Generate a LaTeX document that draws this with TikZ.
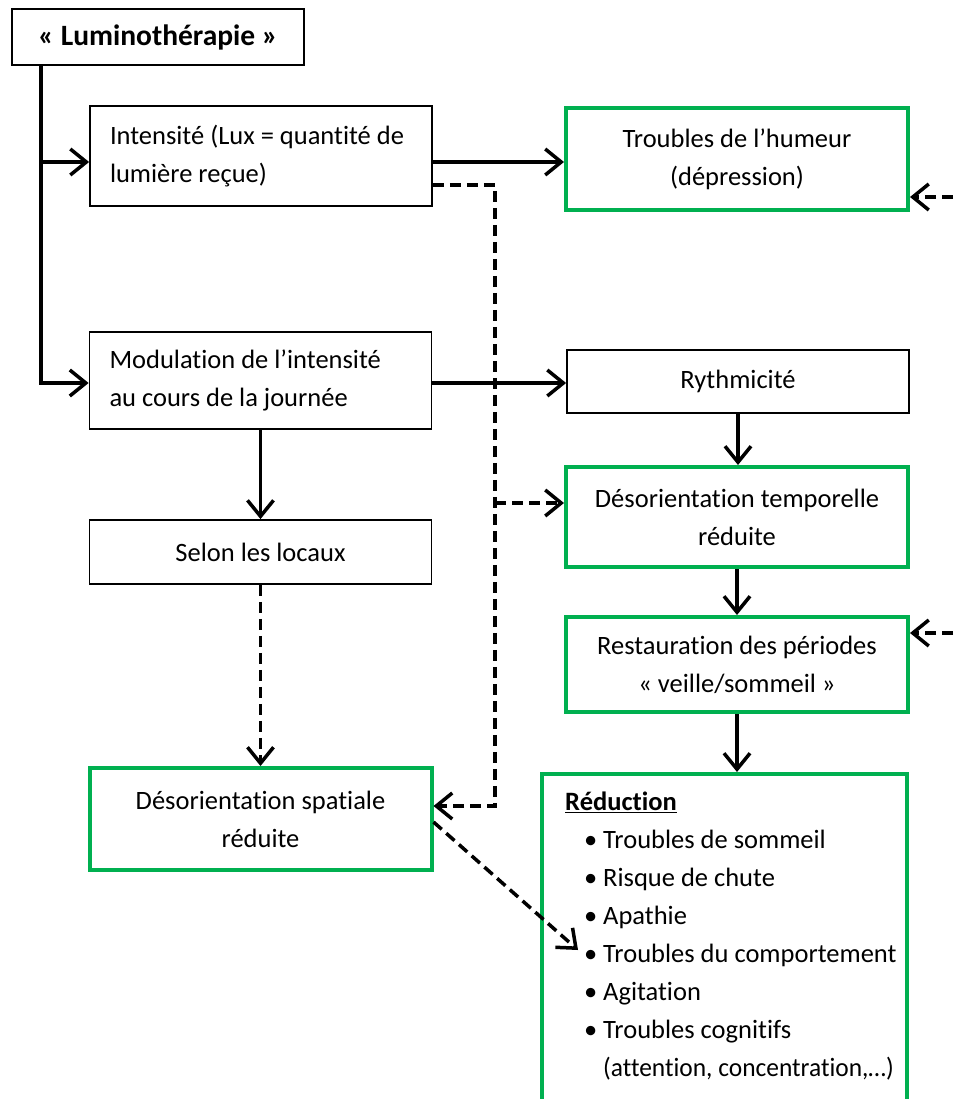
\documentclass[tikz,border=0pt]{standalone}
\usepackage{fontspec}
\usepackage{graphicx}
\setmainfont{Carlito}[Ligatures={NoCommon}]
\usetikzlibrary{arrows.meta}
\definecolor{okgreen}{RGB}{0,176,80}
\newcommand{\rbul}{\makebox[38pt][r]{\textbullet\hspace{6pt}}}
\newcommand{\lefttext}[1]{\hspace*{20pt}\parbox[c]{322pt}{\raggedright #1}}
\tikzset{
  box/.style={draw=black, line width=1.8pt, minimum width=342pt, inner sep=0pt, align=center, fill=white,
    font=\fontsize{26.5}{38}\selectfont},
  gbox/.style={box, draw=okgreen, line width=4pt},
  conn/.style={line width=3.5pt, -{Straight Barb[length=16pt,width=26pt,line width=3.5pt]}},
  dconn/.style={conn, dash pattern=on 11pt off 6pt},
}
\begin{document}
\begin{tikzpicture}[x=1pt,y=-1pt]
\clip (0,0) rectangle (953,1099);
\fill[white] (0,0) rectangle (953,1099);
% nodes
\node[box, minimum width=292pt, minimum height=56pt, font=\fontsize{29.5}{34}\selectfont\bfseries] (lumi) at (158,37) {«~Luminothérapie~»};
\node[box, minimum height=100pt] (inten) at (261,156) {\lefttext{Intensité (Lux = quantité de\\lumière reçue)}};
\node[gbox, minimum height=102pt] (humeur) at (737,159) {Troubles de l’humeur\\(dépression)};
\node[box, minimum height=97pt] (modul) at (260.5,380.5) {\lefttext{Modulation de l’intensité\\au cours de la journée}};
\node[box, minimum height=63pt] (rythm) at (738,381.5) {Rythmicité};
\node[gbox, minimum height=100pt] (tempo) at (737,517) {Désorientation temporelle\\réduite};
\node[box, minimum height=64pt] (selon) at (260.5,552) {Selon les locaux};
\node[gbox, minimum height=95pt] (resto) at (737,664.5) {Restauration des périodes\\«~veille/sommeil~»};
\node[gbox, minimum height=102pt] (spatial) at (260.5,819) {Désorientation spatiale\\réduite};
\node[gbox, minimum width=365pt, minimum height=340pt, anchor=north] (reduc) at (724.5,772) {};
\node[anchor=north west, inner sep=0pt, font=\fontsize{26.5}{38}\selectfont] (reductxt) at (565,792)
  {\parbox[t]{380pt}{\raggedright
   \underline{\textbf{Réduction}}\\
   \rbul Troubles de sommeil\\
   \rbul Risque de chute\\
   \rbul Apathie\\
   \rbul Troubles du comportement\\
   \rbul Agitation\\
   \rbul Troubles cognitifs\\
   \hspace*{38pt}\scalebox{0.96}[1]{(attention, concentration,…)}}};
% coordinates
\coordinate (trunk) at ([xshift=30pt]lumi.south west);
\coordinate (dx) at (495,185);
\coordinate (rin1) at (953,197);
\coordinate (rin2) at (953,633);
\coordinate (tc) at (578,950);
% connectors
\draw[conn] (trunk) |- ([yshift=-2.5pt]modul.west);
\draw[conn] (trunk |- 0,162) -- (inten.west |- 0,162);
\draw[conn] (inten.east |- 0,162) -- (humeur.west |- 0,162);
\draw[dconn] (rin1) -- (humeur.east |- rin1);
\draw[dconn] (inten.east |- dx) -- (dx) |- (spatial.east |- 0,806);
\draw[dconn] (dx |- 0,503) -- (tempo.west |- 0,503);
\draw[conn] (modul.east |- 0,383) -- (rythm.west |- 0,383);
\draw[conn] (modul.south) -- (selon.north);
\draw[conn] (rythm.south) -- (rythm.south |- tempo.north);
\draw[conn] (tempo.south) -- (resto.north);
\draw[conn] (resto.south) -- (resto.south |- reduc.north);
\draw[dconn] (rin2) -- (resto.east |- rin2);
\draw[dconn] (selon.south) -- (spatial.north);
\draw[dconn] (spatial.east |- 0,822) -- (tc);
\end{tikzpicture}
\end{document}
